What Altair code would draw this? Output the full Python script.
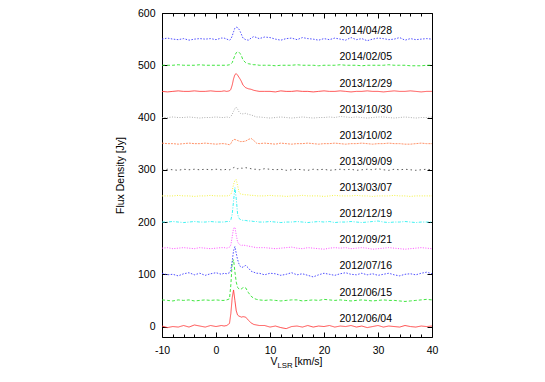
import altair as alt
import pandas as pd

# ---------------- data ----------------
vel_left = [-10, -9, -8, -7, -6, -5, -4, -3, -2, -1, 0, 1]
vel_mid = [1.5, 2, 2.5, 2.75, 3, 3.25, 3.5, 3.75, 4, 4.25, 4.5, 4.75, 5, 5.5, 6, 6.5, 7, 7.5, 8]
vel_right = list(range(9, 41))
velocity = vel_left + vel_mid + vel_right

dates = ["2012/06/04", "2012/06/15", "2012/07/16", "2012/09/21", "2012/12/19", "2013/03/07",
         "2013/09/09", "2013/10/02", "2013/10/30", "2013/12/29", "2014/02/05", "2014/04/28"]
offsets = [0, 50, 100, 150, 200, 250, 300, 350, 400, 450, 500, 550]

f_20120604 = ([1, -2, 0, -1, 2, -1, 3, 1, -1, 2, 0, 2] +
              [1, 2, 6, 25, 55, 70, 50, 30, 22, 20, 19, 18, 19, 18, 12, 7, 4, 3, 2] +
              [2, -1, 1, -2, -4, 0, 1, -1, 2, -1, 1, 0, 2, -1, 1, 0, 2, -1, 1, -2, 0, 2, -1, 1, 0, -1, 2, 0, -1, 1, 0, 1])
f_20120615 = ([1, 0, -1, 1, 0, 1, -1, 0, 1, 0, 1, 0] +
              [0, 1, 3, 30, 72, 78, 55, 35, 25, 22, 21, 22, 25, 24, 15, 8, 4, 2, 1] +
              [0, 1, 0, -1, 0, 1, 1, -1, 0, 1, 0, 2, 1, 0, 1, 0, -1, 0, 1, 0, -1, 0, 1, 0, 0, -1, -2, -1, 0, 1, 2, 1])
f_20120716 = ([2, -1, 0, -3, 1, 3, -1, 2, -2, 1, 3, 0] +
              [2, 1, 3, 8, 25, 45, 53, 40, 28, 20, 15, 13, 14, 17, 12, 6, 4, 2, 2] +
              [-1, 2, 1, -2, 0, 3, -1, 1, -2, -5, -1, 2, 0, -2, 1, 3, 0, -1, 2, -1, 1, -2, 0, 2, -1, -3, 0, 1, -1, 2, 4, 1])
f_20120921 = ([0, 1, -1, 0, 1, 0, -1, 1, 0, -1, 0, 1] +
              [1, 0, 2, 6, 22, 38, 40, 25, 12, 8, 6, 5, 6, 5, 4, 3, 2, 1, 1] +
              [1, 0, -1, 0, 1, 2, 0, -1, 1, 0, -1, -2, 0, 1, 0, 1, -1, 0, 1, 0, -2, -1, 0, 1, 0, -1, -2, -1, 0, 1, 0, -1])
f_20121219 = ([0, 0, 1, 0, -1, 0, 1, 0, 0, 1, 0, 0] +
              [0, 1, 1, 4, 15, 40, 66, 45, 15, 7, 5, 4, 3, 3, 2, 2, 1, 1, 0] +
              [0, 1, 0, -1, 0, 0, 1, 0, -1, 0, 1, 0, 1, -1, 0, 0, 1, 0, -1, 0, 1, 2, 0, -1, 0, 0, 1, 0, -1, 0, 0, 0])
f_20130307 = ([0, 0, 0, 1, 0, 0, -1, 0, 0, 1, 0, 0] +
              [0, 0, 1, 3, 10, 22, 30, 31, 20, 8, 4, 3, 3, 2, 2, 1, 1, 0, 0] +
              [0, 1, 0, 0, -1, 0, 0, 1, 0, 0, 0, -1, 0, 1, 0, 0, 0, 1, 0, 0, -1, 0, 0, 0, 1, 0, 0, -1, 0, 0, 0, 0])
f_20130909 = ([-1, 1, 0, -1, 1, 0, 1, 0, 1, 0, 1, 0] +
              [0, 1, 0, 1, 3, 4, 5, 3, 2, 3, 4, 3, 3, 4, 3, 2, 1, 1, 0] +
              [2, 1, 0, 1, -1, 0, 1, 0, -1, 1, 0, 1, -1, 0, 1, 0, 1, -1, 0, 1, 0, 2, 0, -1, 1, 0, 1, 0, -1, 0, 1, 0])
f_20131002 = ([1, 0, 0, -1, 0, 1, 0, 0, 1, 0, -1, 0] +
              [0, -1, -2, 0, 5, 8, 8, 7, 6, 5, 4, 4, 4, 5, 8, 10, 6, 1, 0] +
              [1, 0, -1, 1, 0, -1, 0, 0, 1, 0, -1, 0, 0, 1, 0, -1, 0, 0, 1, 0, -1, 0, 0, 1, 0, 0, -1, -1, 0, 1, 0, 0])
f_20131030 = ([0, 0, 1, 0, 0, 1, 0, -1, 0, 0, 1, 0] +
              [0, 1, 0, 2, 6, 12, 17, 20, 16, 11, 8, 7, 7, 8, 6, 5, 3, 1, 1] +
              [0, -1, 0, 1, 0, -1, 0, 1, 0, -1, 0, 0, 1, 0, 2, 1, 0, 1, 0, -1, 0, 1, 1, 0, -1, 0, 1, 0, -1, 0, 0, 1])
f_20131229 = ([0, -1, 0, 1, 0, 0, 1, 0, 0, 1, 0, 0] +
              [1, 0, 1, 4, 12, 24, 32, 34, 31, 27, 23, 18, 12, 7, 5, 4, 2, 1, 0] +
              [0, 0, -1, 1, 0, 0, 1, 0, 0, -1, 0, 1, 0, 0, 1, 0, -1, 0, 0, 1, 0, 0, -1, 0, 1, 0, 0, 1, 0, -1, 0, 0])
f_20140205 = ([0, 0, 0, 1, 0, 0, 0, 1, 0, 0, 0, 0] +
              [0, 0, 1, 2, 5, 12, 19, 24, 26, 25, 22, 17, 10, 5, 3, 2, 1, 1, 0] +
              [0, 0, -1, 0, 0, 0, 1, 0, 0, 0, -1, 0, 0, 0, 1, 0, 0, 0, -1, 0, 0, 0, 0, 1, 0, 0, 0, -1, -1, -1, 0, 0])
f_20140428 = ([0, 2, 0, -1, 1, -2, 0, 1, 0, 1, -1, 2] +
              [2, 0, -2, 0, 6, 14, 21, 23, 22, 19, 14, 8, 2, -1, -2, 2, 5, 3, 1] +
              [4, 3, 0, -2, 1, 2, -1, 3, 1, 0, -2, 1, -1, 2, 0, -2, 3, -1, 1, -3, 0, 2, 1, -1, 0, 3, -2, 1, -1, 0, 1, 0])

spectra = [f_20120604, f_20120615, f_20120716, f_20120921, f_20121219, f_20130307,
           f_20130909, f_20131002, f_20131030, f_20131229, f_20140205, f_20140428]

colors = ["#ff3030", "#20e020", "#3030ff", "#ff30ff", "#20f0f0", "#f0f020",
          "#404040", "#ff8050", "#a0a0a0", "#ff3030", "#20e020", "#3030ff"]
dashes = [[1, 0], [3, 2], [1.5, 1.5], [1, 1.5], [3, 1.5, 1, 1.5], [1, 1.5],
          [1.5, 3], [2, 1], [1, 1.5], [1, 0], [3, 2], [1.5, 1.5]]

x_ticks = [-10, 0, 10, 20, 30, 40]
x_minor = [-8, -6, -4, -2, 2, 4, 6, 8, 12, 14, 16, 18, 22, 24, 26, 28, 32, 34, 36, 38]
y_ticks = [0, 100, 200, 300, 400, 500, 600]
label_v = 32.6
label_dy = 15

rows = []
for d, off, fl in zip(dates, offsets, spectra):
    for v, f in zip(velocity, fl):
        rows.append({"date": d, "v": v, "y": f + off})
df = pd.DataFrame(rows)
lab = pd.DataFrame({"date": dates, "lx": [label_v] * len(dates), "ly": [o + label_dy for o in offsets]})

FONT = "Liberation Sans"
xs = alt.Scale(domain=[-10, 40], nice=False, zero=False)
ys = alt.Scale(domain=[-20, 600], nice=False, zero=False)

lines = alt.Chart(df).mark_line(strokeWidth=1, clip=True, opacity=0.85).encode(
    x=alt.X("v:Q", scale=xs, axis=alt.Axis(values=x_ticks, ticks=False, domain=False, grid=False,
                                           labelPadding=8, labelFontSize=10.5, labelFont=FONT,
                                           labelColor="black", labelFlush=False, labelOverlap=False,
                                           labelExpr="'' + datum.value", title=None)),
    y=alt.Y("y:Q", scale=ys, axis=alt.Axis(values=y_ticks, ticks=False, domain=False, grid=False,
                                           labelPadding=7, labelFontSize=10.5, labelFont=FONT,
                                           labelColor="black", labelFlush=False, labelOverlap=False,
                                           labelExpr="'' + datum.value",
                                           title="Flux Density [Jy]",
                                           titleFont=FONT, titleFontSize=10.5, titleFontWeight="normal",
                                           titleColor="black", titlePadding=12)),
    color=alt.Color("date:N", scale=alt.Scale(domain=dates, range=colors), legend=None),
    strokeDash=alt.StrokeDash("date:N", scale=alt.Scale(domain=dates, range=dashes), legend=None),
)


def xtick(orient, vals, size):
    return alt.Chart(df).mark_line(opacity=0).encode(
        x=alt.X("v:Q", scale=xs, axis=alt.Axis(orient=orient, values=vals, tickSize=size, offset=-size,
                                               labels=False, domain=False, grid=False, title=None,
                                               tickColor="black", tickWidth=1)),
        y=alt.Y("y:Q", scale=ys, axis=None),
    )


def ytick(orient, vals, size):
    return alt.Chart(df).mark_line(opacity=0).encode(
        x=alt.X("v:Q", scale=xs, axis=None),
        y=alt.Y("y:Q", scale=ys, axis=alt.Axis(orient=orient, values=vals, tickSize=size, offset=-size,
                                               labels=False, domain=False, grid=False, title=None,
                                               tickColor="black", tickWidth=1)),
    )


labels = alt.Chart(lab).mark_text(align="right", baseline="middle", fontSize=10.5, font=FONT,
                                  color="black").encode(
    x=alt.X("lx:Q", scale=xs, axis=None),
    y=alt.Y("ly:Q", scale=ys, axis=None),
    text="date:N",
)

t_df = pd.DataFrame({"t": ["V", "LSR", "[km/s]"]})
t_v = alt.Chart(t_df).transform_filter("datum.t == 'V'").mark_text(
    align="right", baseline="middle", fontSize=10.5, font=FONT, color="black").encode(
    x=alt.value(115.5), y=alt.value(349), text="t:N")
t_lsr = alt.Chart(t_df).transform_filter("datum.t == 'LSR'").mark_text(
    align="left", baseline="middle", fontSize=7.8, font=FONT, color="black").encode(
    x=alt.value(115.5), y=alt.value(353), text="t:N")
t_unit = alt.Chart(t_df).transform_filter("datum.t == '[km/s]'").mark_text(
    align="left", baseline="middle", fontSize=10.5, font=FONT, color="black").encode(
    x=alt.value(132.5), y=alt.value(349), text="t:N")

chart = alt.layer(
    lines,
    xtick("bottom", x_ticks, 5), xtick("bottom", x_minor, 3),
    xtick("top", x_ticks, 5), xtick("top", x_minor, 3),
    ytick("left", y_ticks, 5), ytick("right", y_ticks, 5),
    labels, t_v, t_lsr, t_unit,
).resolve_axis(x="independent", y="independent").properties(
    width=270, height=324,
    autosize=alt.AutoSizeParams(type="none"),
    padding={"left": 154, "top": 5, "right": 100, "bottom": 40},
).configure_view(stroke="black", strokeWidth=1)

chart.save("out.html", embed_options={"renderer": "svg", "actions": False})
